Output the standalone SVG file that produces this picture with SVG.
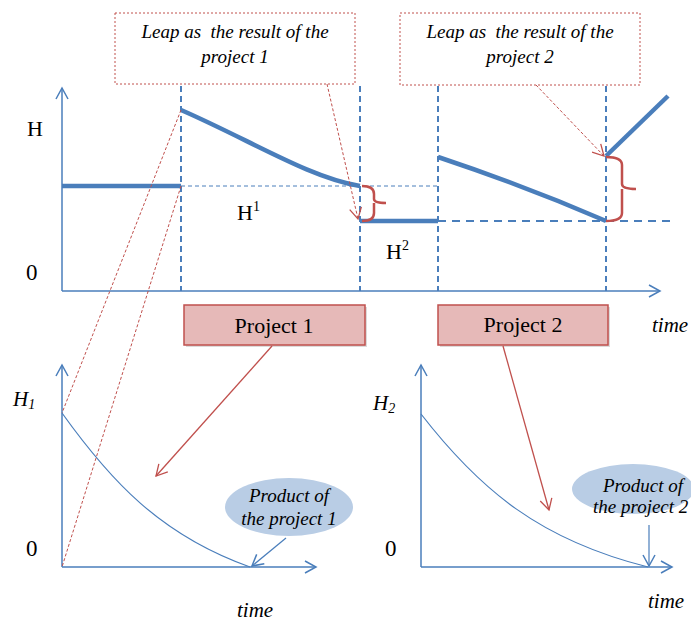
<svg xmlns="http://www.w3.org/2000/svg" width="691" height="621" viewBox="0 0 691 621">
<defs>
<marker id="ab" markerWidth="14" markerHeight="14" refX="12" refY="7" orient="auto" markerUnits="userSpaceOnUse"><path d="M1,1 L12,7 L1,13" fill="none" stroke="#4a7ebb" stroke-width="1.5"/></marker>
<marker id="ar" markerWidth="14" markerHeight="14" refX="12" refY="7" orient="auto" markerUnits="userSpaceOnUse"><path d="M1,1 L12,7 L1,13" fill="none" stroke="#c0504d" stroke-width="1.3"/></marker>
</defs>
<style>
.ax{fill:none;stroke:#4a7ebb;stroke-width:1.5}
.thick{fill:none;stroke:#4a7ebb;stroke-width:4.5}
.vd{fill:none;stroke:#4a7ebb;stroke-width:2;stroke-dasharray:6,4}
.hd{fill:none;stroke:#4a7ebb;stroke-width:1;stroke-dasharray:4,3}
.hd2{fill:none;stroke:#4a7ebb;stroke-width:2;stroke-dasharray:8,6}
.rd{fill:none;stroke:#c0504d;stroke-width:1;stroke-dasharray:3,2}
.rs{fill:none;stroke:#c0504d;stroke-width:1.3}
.brace{fill:none;stroke:#c0504d;stroke-width:2.5}
.thin{fill:none;stroke:#4a7ebb;stroke-width:1.2}
.t{font-family:"Liberation Serif",serif;fill:#000}
.it{font-family:"Liberation Serif",serif;font-style:italic;fill:#000}
.box{fill:#fff;stroke:#c0504d;stroke-width:1;stroke-dasharray:2,2}
.pbox{fill:#e6b9b8;stroke:#c0504d;stroke-width:1.5}
.ell{fill:#b9cde5}
</style>
<g id="top-chart">
<path class="ax" d="M62,291 V88" marker-end="url(#ab)"/>
<path class="ax" d="M62,291 H660" marker-end="url(#ab)"/>
<path class="vd" d="M181,86 V291"/>
<path class="vd" d="M360,86 V291"/>
<path class="vd" d="M438,86 V291"/>
<path class="vd" d="M606,86 V291"/>
<path class="hd" d="M181,186 H438"/>
<path class="hd2" d="M438,221 H672"/>
<path class="thick" d="M62,186 H181"/>
<path class="thick" d="M181,110 C250,140 310,178 360,186"/>
<path class="thick" d="M360,221 H438"/>
<path class="thick" d="M438,157 Q525,186 606,221"/>
<path class="thick" d="M606,156 L668,96"/>
<path class="brace" d="M362,186 Q374,186 374,194 V199 Q374,203 386,203 M374,203 V213 Q374,221 362,221"/>
<path class="brace" d="M606,157 Q622,157 622,165 V184 Q622,189 636,189 M622,189 V213 Q622,221 606,221"/>
<text class="t" x="27" y="136" font-size="22">H</text>
<text class="t" x="26" y="280" font-size="23">0</text>
<text class="t" x="237" y="220" font-size="22">H<tspan font-size="14" dy="-9">1</tspan></text>
<text class="t" x="386" y="259" font-size="22">H<tspan font-size="14" dy="-9">2</tspan></text>
<text class="it" x="652" y="332" font-size="21">time</text>
</g>
<g id="leap1">
<rect class="box" x="115" y="13" width="240" height="71"/>
<text class="it" x="235" y="38" font-size="19" text-anchor="middle" xml:space="preserve">Leap as  the result of the</text>
<text class="it" x="235" y="63" font-size="19" text-anchor="middle">project 1</text>
</g>
<g id="leap2">
<rect class="box" x="400" y="13" width="240" height="72"/>
<text class="it" x="520" y="38" font-size="19" text-anchor="middle" xml:space="preserve">Leap as  the result of the</text>
<text class="it" x="520" y="63" font-size="19" text-anchor="middle">project 2</text>
</g>
<g id="project1">
<rect x="186" y="307" width="181" height="40" fill="#999" opacity="0.35"/>
<rect class="pbox" x="184" y="305" width="181" height="40"/>
<text class="t" x="274" y="333" font-size="22" text-anchor="middle">Project 1</text>
</g>
<g id="project2">
<rect x="440" y="307" width="170" height="40" fill="#999" opacity="0.35"/>
<rect class="pbox" x="438" y="305" width="170" height="40"/>
<text class="t" x="523" y="332" font-size="22" text-anchor="middle">Project 2</text>
</g>
<g id="chart1">
<path class="ax" d="M62,567 V365" marker-end="url(#ab)"/>
<path class="ax" d="M62,567 H316" marker-end="url(#ab)"/>
<path class="thin" d="M62,413 C110,480 160,535 250,567"/>
<text class="it" x="13" y="406" font-size="21">H<tspan font-size="14" dy="3">1</tspan></text>
<text class="t" x="26" y="556" font-size="23">0</text>
<text class="it" x="237" y="617" font-size="21">time</text>
</g>
<g id="chart2">
<path class="ax" d="M421,567 V365" marker-end="url(#ab)"/>
<path class="ax" d="M421,567 H672" marker-end="url(#ab)"/>
<path class="thin" d="M421,414 C480,490 540,540 648,567"/>
<text class="it" x="373" y="410" font-size="21">H<tspan font-size="14" dy="3">2</tspan></text>
<text class="t" x="385" y="556" font-size="23">0</text>
<text class="it" x="648" y="608" font-size="21">time</text>
</g>
<g id="product1">
<ellipse class="ell" cx="289" cy="507" rx="64" ry="29"/>
<text class="it" x="289" y="502" font-size="19" text-anchor="middle">Product of</text>
<text class="it" x="289" y="525" font-size="19" text-anchor="middle">the project 1</text>
</g>
<g id="product2">
<ellipse class="ell" cx="633" cy="489" rx="61" ry="25"/>
<text class="it" x="643" y="492" font-size="19" text-anchor="middle">Product of</text>
<text class="it" x="593" y="513" font-size="19">the project 2</text>
</g>
<g id="connectors">
<path class="rd" d="M327,84 L358,219" marker-end="url(#ar)"/>
<path class="rd" d="M536,85 L604,156" marker-end="url(#ar)"/>
<path class="rd" d="M181,110 L62,413"/>
<path class="rd" d="M181,186 L62,567"/>
<path class="rs" d="M272,346 L156,476" marker-end="url(#ar)"/>
<path class="rs" d="M503,346 L549,510" marker-end="url(#ar)"/>
<path class="thin" d="M286,538 L252,566" marker-end="url(#ab)"/>
<path class="thin" d="M649,525 V566" marker-end="url(#ab)"/>
</g>
</svg>
